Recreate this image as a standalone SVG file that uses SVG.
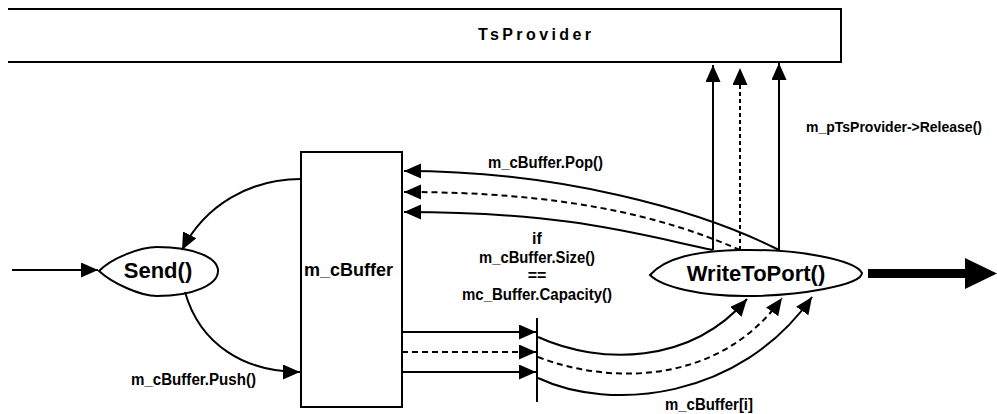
<svg xmlns="http://www.w3.org/2000/svg" width="997" height="414" viewBox="0 0 997 414">
<style>
text{font-family:"Liberation Sans",Arial,sans-serif;font-weight:bold;fill:#000}
.node{fill:#fff;stroke:#000;stroke-width:2}
.c{fill:none;stroke:#000;stroke-width:2}
.d{stroke-dasharray:6 4}
.lbl{font-size:16px}
</style>
<defs>
<marker id="ah" markerUnits="userSpaceOnUse" markerWidth="18" markerHeight="16" refX="17" refY="7.5" orient="auto">
<path d="M0,0 L17,7.5 L0,15 z" fill="#000"/>
</marker>
</defs>
<g id="tsprovider">
<path class="node" d="M 8 9 H 841 V 62 H 8"/>
<text x="478" y="40" font-size="16" letter-spacing="3.4">TsProvider</text>
</g>
<g id="mcbuffer">
<rect class="node" x="301" y="152" width="101" height="255"/>
<text x="304" y="276" font-size="18">m_cBuffer</text>
</g>
<g id="send">
<path class="node" d="M 99 271 C 112 258 140 247 157 247 C 195 247 218 258 218 271 C 218 284 195 296 157 296 C 140 296 112 283 99 271 Z"/>
<text x="158" y="278" font-size="22" text-anchor="middle">Send()</text>
</g>
<g id="writetoport">
<path class="node" d="M 650 275 C 665 258 695 251 740 250 C 800 249 855 260 862 273 C 862 285 800 296 745 296 C 700 296 662 287 650 275 Z"/>
<text x="756" y="281" font-size="22" text-anchor="middle">WriteToPort()</text>
</g>
<g id="connectors">
<line class="c" x1="12" y1="270" x2="98" y2="270" marker-end="url(#ah)"/>
<path class="c" d="M 301 179 C 250 179 205 205 182 250" marker-end="url(#ah)"/>
<path class="c" d="M 185 292 C 200 345 245 372 300 372" marker-end="url(#ah)"/>
<path class="c" d="M 779 250 C 700 210 560 171 404 171" marker-end="url(#ah)"/>
<path class="c d" d="M 740 250 C 660 215 560 192 404 192" marker-end="url(#ah)"/>
<path class="c" d="M 713 250 C 640 235 570 212 404 212" marker-end="url(#ah)"/>
<line class="c" x1="713" y1="250" x2="713" y2="65" marker-end="url(#ah)"/>
<line class="c" x1="740" y1="250" x2="740" y2="68" stroke-dasharray="4 3" marker-end="url(#ah)"/>
<line class="c" x1="779" y1="250" x2="779" y2="63" marker-end="url(#ah)"/>
<line class="c" x1="402" y1="332" x2="536" y2="332" marker-end="url(#ah)"/>
<line class="c d" x1="402" y1="352" x2="536" y2="352" marker-end="url(#ah)"/>
<line class="c" x1="402" y1="372" x2="536" y2="372" marker-end="url(#ah)"/>
<line class="c" x1="537" y1="318" x2="537" y2="402"/>
<path class="c" d="M 538 337 C 600 365 690 365 747 299" marker-end="url(#ah)"/>
<path class="c d" d="M 538 357 C 610 385 720 385 782 298" marker-end="url(#ah)"/>
<path class="c" d="M 538 378 C 610 412 740 400 812 297" marker-end="url(#ah)"/>
<rect x="868" y="269" width="98" height="9" fill="#000"/>
<path d="M 965 258 L 997 273.5 L 965 289 Z" fill="#000"/>
<text class="lbl" x="488" y="168" textLength="115" lengthAdjust="spacingAndGlyphs">m_cBuffer.Pop()</text>
<text x="806" y="132" font-size="14">m_pTsProvider-&gt;Release()</text>
<text class="lbl" x="131" y="385" textLength="125" lengthAdjust="spacingAndGlyphs">m_cBuffer.Push()</text>
<text class="lbl" x="665" y="410" textLength="88" lengthAdjust="spacingAndGlyphs">m_cBuffer[i]</text>
<text class="lbl" x="537" y="244" text-anchor="middle">if</text>
<text class="lbl" x="479" y="262.5" textLength="116" lengthAdjust="spacingAndGlyphs">m_cBuffer.Size()</text>
<text class="lbl" x="537" y="281" text-anchor="middle">==</text>
<text class="lbl" x="462" y="299.5" textLength="150" lengthAdjust="spacingAndGlyphs">mc_Buffer.Capacity()</text>
</g>
</svg>
